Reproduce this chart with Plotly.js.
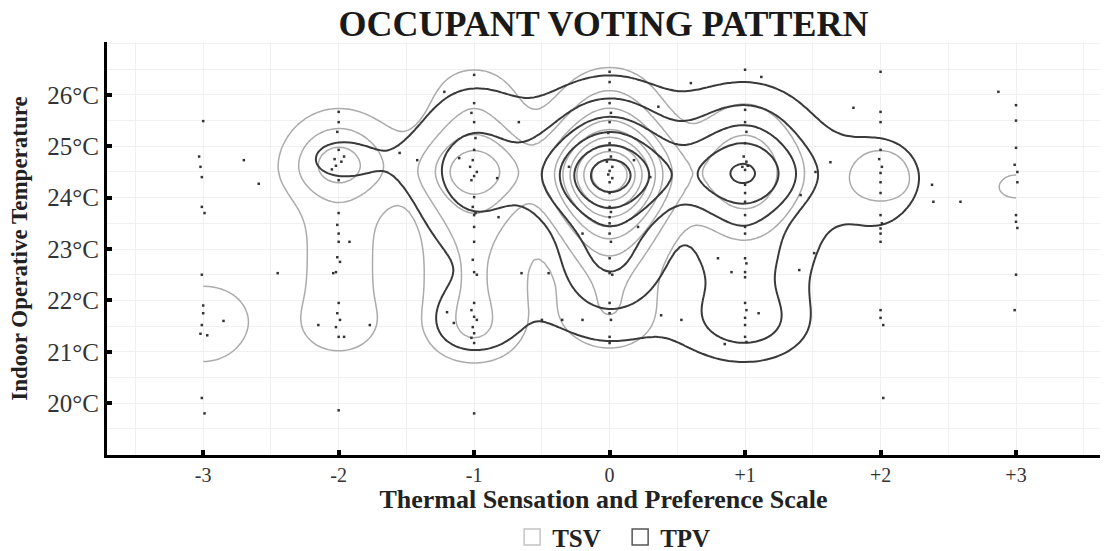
<!DOCTYPE html>
<html>
<head>
<meta charset="utf-8">
<script src="https://cdn.plot.ly/plotly-3.0.1.min.js"></script>
<style>html,body{margin:0;padding:0;background:#fff}#chart{width:1105px;height:551px}</style>
</head>
<body>
<div id="chart"></div>
<script>
// ---------- data ----------
const categories = [-3, -2, -1, 0, 1, 2, 3];
const categoryLabels = ['-3', '-2', '-1', '0', '+1', '+2', '+3'];
const tempTicks = [20, 21, 22, 23, 24, 25, 26];
const tempTickLabels = ['20°C', '21°C', '22°C', '23°C', '24°C', '25°C', '26°C'];
// temperature bins (°C) used for the vote counts below
const tempBins = [19.5, 20, 20.5, 21, 21.5, 22, 22.5, 23, 23.5, 24, 24.5, 25, 25.5, 26, 26.5];

// TSV (thermal sensation vote) counts per temperature bin, one array per vote category
const tsvM3 = [0, 0, 1, 4, 6, 5, 1, 0, 0, 0, 1, 0, 0, 0, 0];
const tsvM2 = [0, 0, 0, 3, 5, 4, 4, 4, 4, 5, 12, 9, 4, 1, 0];
const tsvM1 = [0, 0, 0, 5, 7, 6, 6, 6, 7, 10, 17, 10, 6, 5, 3];
const tsv0  = [0, 0, 0, 2, 6, 6, 6, 9, 14, 24, 34, 20, 10, 6, 3];
const tsvP1 = [0, 0, 0, 1, 2, 2, 1, 2, 4, 7, 9, 7, 4, 2, 1];
const tsvP2 = [0, 0, 0, 0, 0, 0, 0, 0, 0, 4, 4, 3, 0, 0, 0];
const tsvP3 = [0, 0, 0, 0, 0, 0, 0, 0, 0, 4, 3, 1, 0, 0, 0];

// TPV (thermal preference vote) counts per temperature bin
const tpvM3 = [0, 0, 0, 0, 0, 0, 0, 0, 0, 0, 0, 0, 0, 0, 0];
const tpvM2 = [0, 0, 0, 0, 0, 0, 0, 0, 0, 1, 5, 5, 1, 0, 0];
const tpvM1 = [0, 0, 0, 4, 6, 5, 3, 4, 6, 8, 10, 8, 6, 4, 2];
const tpv0  = [0, 0, 0, 2, 5, 8, 11, 12, 12, 20, 30, 16, 11, 6, 2];
const tpvP1 = [0, 0, 0, 4, 14, 8, 8, 10, 8, 15, 24, 13, 10, 5, 1];
const tpvP2 = [0, 0, 0, 0, 0, 0, 1, 3, 3, 5, 6, 4, 2, 1, 0];
const tpvP3 = [0, 0, 0, 0, 0, 0, 0, 0, 0, 0, 0, 0, 0, 0, 0];

// individual votes visible as dots
const dotX = [
  -3, -3.03, -3.02, -3.01, -3.01, -2.99, -3.01, -3, -3, -3.01, -3.02, -2.97, -2.85, -3.01, -2.99, -2.7, -2.59, -2.45,
  -2, -2, -2.01, -2, -2.03, -1.98, -2.02, -1.96, -2.05, -2, -2, -2.01, -2, -2, -2.01, -1.99, -2.02, -2.04, -2, -2.01, -1.99, -2.02, -2, -1.96, -2.15, -1.77, -1.55, -1.42, -1.92, -2,
  -1, -1.22, -1, -1.02, -1, -0.99, -1, -1.01, -1.03, -0.98, -1, -1.02, -1, -1.01, -0.99, -1, -1, -1, -1.01, -1, -0.98, -1, -1.02, -1, -0.98, -1.01, -1, -1.02, -1, -1.11, -0.83, -0.82, -1.2, -1.15, -1,
  0, 0, 0, 0.01, 0, -0.01, 0, 0, 0.01, -0.02, 0.02, 0, -0.01, 0.02, 0, 0, 0, 0.01, 0, 0, 0, 0.01, 0, 0, 0.02, 0, 0, 0.01, 0, 0, -0.67, -0.2, 0.36, 0.21, 0.38, 0.53, 0.6, -0.45, -0.65, -0.2, -0.35, -0.5, 0.18, -0.3, 0.3,
  1, 1, 1, 1.01, 1, 0.99, 1.01, 1.02, 1, 0.98, 1, 1, 1, 1, 1, 1, 1, 1.01, 1, 1, 1, 1.01, 1, 1, 1, 1.01, 1.12, 1.63, 1.52, 1.41, 1.51, 1.4, 0.8, 0.9, 1.1, 0.85,
  2, 2, 2, 2, 1.99, 2.01, 2, 2, 2, 2, 2.01, 2, 2, 2, 2, 2, 2.02, 2.02, 1.8, 2.38, 2.39, 2.59,
  3, 3, 3, 2.99, 3.01, 3, 3, 3.01, 3, 2.99, 2.87, 3.01
];
const dotY = [
  25.49, 24.8, 24.6, 24.4, 23.82, 23.7, 22.5, 21.9, 21.75, 21.52, 21.35, 21.32, 21.6, 20.1, 19.8, 24.73, 24.27, 22.53,
  25.67, 25.47, 25.28, 24.93, 24.75, 24.7, 24.62, 24.8, 24.55, 24.34, 23.7, 23.47, 23.3, 23.14, 22.84, 22.75, 22.55, 22.53, 21.95, 21.75, 21.62, 21.48, 21.29, 21.29, 21.52, 21.52, 24.87, 24.73, 23.14, 19.86,
  26.39, 26.06, 25.84, 25.65, 25.47, 25.16, 24.93, 24.73, 24.6, 24.5, 24.42, 24.34, 24.01, 23.82, 23.7, 23.66, 23.43, 23.14, 22.79, 22.55, 22.5, 21.95, 21.81, 21.68, 21.62, 21.48, 21.36, 21.27, 21.17, 24.77, 24.38, 23.62, 21.77, 21.56, 19.8,
  26.45, 26.25, 25.84, 25.65, 25.47, 25.26, 25.06, 24.93, 24.8, 24.7, 24.6, 24.52, 24.45, 24.38, 24.3, 24.09, 23.82, 23.72, 23.62, 23.5, 23.3, 23.14, 22.82, 22.53, 22.5, 21.95, 21.75, 21.62, 21.29, 21.17, 25.47, 23.3, 25.77, 23.43, 21.71, 21.62, 26.23, 22.53, 22.53, 21.62, 21.62, 21.62, 24.73, 24.6, 24.4,
  26.49, 25.71, 25.47, 25.28, 25.06, 24.8, 24.7, 24.62, 24.54, 24.6, 24.25, 24.09, 23.92, 23.66, 23.43, 23.3, 22.82, 22.72, 22.55, 22.45, 21.95, 21.81, 21.66, 21.52, 21.29, 21.19, 26.35, 24.69, 24.5, 24.05, 22.92, 22.59, 22.82, 22.55, 21.75, 21.15,
  26.45, 25.67, 25.47, 24.93, 24.75, 24.6, 24.48, 24.3, 24.09, 23.66, 23.5, 23.4, 23.3, 23.14, 21.81, 21.66, 21.52, 20.1, 25.75, 24.25, 23.92, 23.92,
  25.8, 25.5, 24.97, 24.64, 24.3, 23.66, 23.53, 23.41, 22.5, 21.81, 26.06, 24.5
];

// ---------- density estimate on a grid (range of the data) ----------
const gx = [], gy = [];
for (let v = -3; v <= 3.0001; v += 0.04) gx.push(+v.toFixed(3));
for (let v = 19.6; v <= 26.7001; v += 0.04) gy.push(+v.toFixed(3));

function density(cols, hx, hy) {
  const z = [];
  let mx = 0;
  for (let j = 0; j < gy.length; j++) {
    const row = [];
    for (let i = 0; i < gx.length; i++) {
      let s = 0;
      for (let c = 0; c < categories.length; c++) {
        const dx = gx[i] - categories[c];
        const wx = Math.exp(-dx * dx / (2 * hx * hx));
        if (wx < 1e-7) continue;
        const arr = cols[c];
        for (let k = 0; k < tempBins.length; k++) {
          if (!arr[k]) continue;
          const dy = gy[j] - tempBins[k];
          s += arr[k] * wx * Math.exp(-dy * dy / (2 * hy * hy));
        }
      }
      row.push(s);
      if (s > mx) mx = s;
    }
    z.push(row);
  }
  return z.map(r => r.map(v => v / mx));
}

const zTSV = density([tsvM3, tsvM2, tsvM1, tsv0, tsvP1, tsvP2, tsvP3], 0.28, 0.36);
const zTPV = density([tpvM3, tpvM2, tpvM1, tpv0, tpvP1, tpvP2, tpvP3], 0.34, 0.45);

const traces = [
  {
    type: 'contour', x: gx, y: gy, z: zTSV,
    autocontour: false,
    contours: {coloring: 'none', start: 0.1, end: 0.95, size: 0.1},
    line: {color: '#ababab', width: 1.5, smoothing: 1},
    showscale: false, hoverinfo: 'skip', showlegend: false
  },
  {
    type: 'contour', x: gx, y: gy, z: zTPV,
    autocontour: false,
    contours: {coloring: 'none', start: 0.154, end: 0.97, size: 0.154},
    line: {color: '#3a3a3a', width: 2, smoothing: 1},
    showscale: false, hoverinfo: 'skip', showlegend: false
  },
  {
    type: 'scatter', mode: 'markers', x: dotX, y: dotY,
    marker: {size: 2.5, color: '#333', symbol: 'square'},
    hoverinfo: 'skip', showlegend: false
  },
  {
    type: 'scatter', mode: 'markers', x: [null], y: [null], name: 'TSV',
    marker: {symbol: 'square-open', size: 16, color: '#c4c4c4', line: {width: 1.5}}
  },
  {
    type: 'scatter', mode: 'markers', x: [null], y: [null], name: 'TPV',
    marker: {symbol: 'square-open', size: 16, color: '#555', line: {width: 1.5}}
  }
];

const serif = 'Liberation Serif, Times New Roman, serif';
const layout = {
  width: 1105, height: 551,
  margin: {l: 107, r: 5, t: 42, b: 96},
  paper_bgcolor: '#fff', plot_bgcolor: '#fff',
  font: {family: serif, color: '#222'},
  title: {
    text: 'OCCUPANT VOTING PATTERN',
    font: {family: serif, size: 36, color: '#1a1a1a', weight: 'bold'},
    x: 0.5, xref: 'paper', xanchor: 'center',
    y: 0.958, yref: 'container', yanchor: 'middle'
  },
  xaxis: {
    range: [-3.71, 3.62],
    tickmode: 'array', tickvals: categories, ticktext: categoryLabels,
    ticks: 'inside', ticklen: 5, tickwidth: 4, tickcolor: '#000',
    tickfont: {family: serif, size: 20, color: '#333'},
    showline: true, linewidth: 3, linecolor: '#000',
    showgrid: true, gridcolor: '#f0f0f0', gridwidth: 1,
    minor: {dtick: 0.5, tick0: 0, showgrid: true, gridcolor: '#f0f0f0', ticks: ''},
    zeroline: false, automargin: false,
    title: {text: 'Thermal Sensation and Preference Scale', font: {family: serif, size: 26, color: '#222', weight: 'bold'}, standoff: 8}
  },
  yaxis: {
    range: [18.99, 27.03],
    tickmode: 'array', tickvals: tempTicks, ticktext: tempTickLabels,
    ticks: 'inside', ticklen: 5, tickwidth: 4, tickcolor: '#000',
    tickfont: {family: serif, size: 25, color: '#333'},
    showline: true, linewidth: 3, linecolor: '#000',
    showgrid: true, gridcolor: '#f0f0f0', gridwidth: 1,
    minor: {dtick: 0.5, tick0: 0, showgrid: true, gridcolor: '#f0f0f0', ticks: ''},
    zeroline: false, automargin: false,
    title: {text: 'Indoor Operative Temperature', font: {family: serif, size: 23, color: '#222', weight: 'bold'}, standoff: 14}
  },
  legend: {
    orientation: 'h', x: 0.408, xanchor: 'left',
    yref: 'container', y: 0.025, yanchor: 'middle',
    font: {family: serif, size: 25, color: '#222', weight: 'bold'},
    itemwidth: 30, entrywidth: 63
  },
  showlegend: true
};

Plotly.newPlot('chart', traces, layout, {displayModeBar: false, staticPlot: true});
</script>
</body>
</html>
